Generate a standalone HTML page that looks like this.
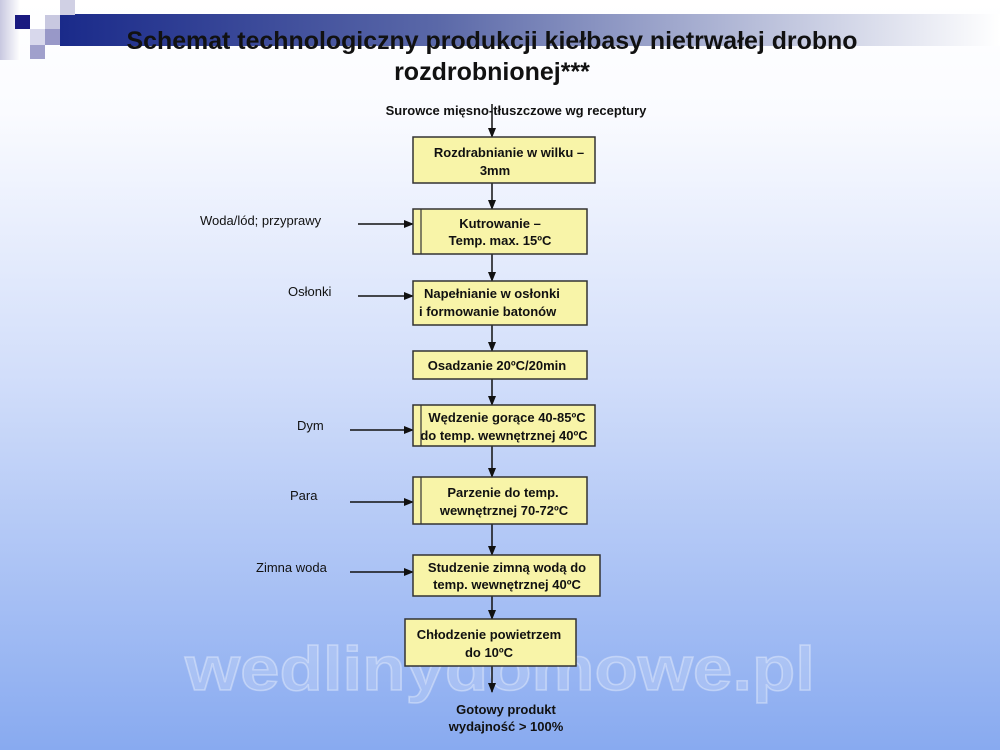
<!DOCTYPE html>
<html><head><meta charset="utf-8"><style>
body{margin:0;width:1000px;height:750px;overflow:hidden;font-family:"Liberation Sans",sans-serif}
svg text{font-family:"Liberation Sans",sans-serif}
</style></head><body>
<svg width="1000" height="750" xmlns="http://www.w3.org/2000/svg">
<defs>
<linearGradient id="bg" x1="0" y1="0" x2="0" y2="1">
<stop offset="0" stop-color="#ffffff"/><stop offset="0.15" stop-color="#fafbff"/><stop offset="0.5" stop-color="#d2defa"/><stop offset="1" stop-color="#88aaf0"/></linearGradient>
<linearGradient id="bar" x1="0" y1="0" x2="1" y2="0">
<stop offset="0" stop-color="#1a2a8a"/><stop offset="0.4" stop-color="#5a68a8"/><stop offset="1" stop-color="#ffffff"/></linearGradient>
<linearGradient id="lg" x1="0" y1="0" x2="1" y2="0"><stop offset="0" stop-color="#c8c8e0"/><stop offset="1" stop-color="#ffffff"/></linearGradient>
<marker id="a" markerWidth="10" markerHeight="10" refX="9" refY="5" orient="auto" markerUnits="userSpaceOnUse"><path d="M0,1 L10,5 L0,9 z" fill="#111"/></marker>
</defs>
<rect width="1000" height="750" fill="url(#bg)"/>
<rect x="0" y="0" width="20" height="60" fill="url(#lg)"/>
<rect x="60" y="14" width="940" height="32" fill="url(#bar)"/>
<rect x="15" y="15" width="15" height="14" fill="#1a1a80"/>
<rect x="45" y="15" width="15" height="14" fill="#c8c8e0"/>
<rect x="60" y="0" width="15" height="15" fill="#d0d0e4"/>
<rect x="30" y="29" width="15" height="16" fill="#d8d8ec"/>
<rect x="45" y="29" width="15" height="16" fill="#9898c8"/>
<rect x="30" y="45" width="15" height="14" fill="#a0a0cc"/>
<text x="500" y="690" font-size="62" font-weight="bold" text-anchor="middle" textLength="630" lengthAdjust="spacingAndGlyphs" fill="#ffffff" fill-opacity="0.18" stroke="#ffffff" stroke-opacity="0.35" stroke-width="1.5">wedlinydomowe.pl</text>
<g font-weight="bold" fill="#111" text-anchor="middle">
<text x="492" y="49" font-size="25" textLength="731" lengthAdjust="spacingAndGlyphs">Schemat technologiczny produkcji kiełbasy nietrwałej drobno</text>
<text x="492" y="80" font-size="25">rozdrobnionej***</text>
<text x="516" y="115" font-size="13">Surowce mięsno-tłuszczowe wg receptury</text>
</g>
<g stroke="#111" stroke-width="1.5" fill="none" marker-end="url(#a)">
<line x1="492" y1="104" x2="492" y2="137"/>
<line x1="492" y1="183" x2="492" y2="209"/>
<line x1="492" y1="254" x2="492" y2="281"/>
<line x1="492" y1="325" x2="492" y2="351"/>
<line x1="492" y1="379" x2="492" y2="405"/>
<line x1="492" y1="446" x2="492" y2="477"/>
<line x1="492" y1="524" x2="492" y2="555"/>
<line x1="492" y1="596" x2="492" y2="619"/>
<line x1="492" y1="666" x2="492" y2="692"/>
<line x1="358" y1="224" x2="413" y2="224"/>
<line x1="358" y1="296" x2="413" y2="296"/>
<line x1="350" y1="430" x2="413" y2="430"/>
<line x1="350" y1="502" x2="413" y2="502"/>
<line x1="350" y1="572" x2="413" y2="572"/>
</g>
<g fill="#f8f4a8" stroke="#333" stroke-width="1.5">
<rect x="413" y="137" width="182" height="46"/>
<rect x="413" y="209" width="174" height="45"/>
<rect x="413" y="281" width="174" height="44"/>
<rect x="413" y="351" width="174" height="28"/>
<rect x="413" y="405" width="182" height="41"/>
<rect x="413" y="477" width="174" height="47"/>
<rect x="413" y="555" width="187" height="41"/>
<rect x="405" y="619" width="171" height="47"/>
</g>
<g stroke="#333" stroke-width="1.2"><line x1="421" y1="209" x2="421" y2="254"/><line x1="421" y1="405" x2="421" y2="446"/><line x1="421" y1="477" x2="421" y2="524"/></g>
<g font-weight="bold" fill="#111" font-size="13" text-anchor="middle">
<text x="509" y="157">Rozdrabnianie w wilku –</text><text x="495" y="175">3mm</text>
<text x="500" y="228">Kutrowanie –</text><text x="500" y="245">Temp. max.  15ºC</text>
<text x="424" y="298" text-anchor="start">Napełnianie w osłonki</text><text x="419" y="316" text-anchor="start">i formowanie batonów</text>
<text x="497" y="370">Osadzanie 20ºC/20min</text>
<text x="507" y="422">Wędzenie gorące 40-85ºC</text><text x="504" y="440">do temp. wewnętrznej 40ºC</text>
<text x="503" y="497">Parzenie do temp.</text><text x="504" y="515">wewnętrznej 70-72ºC</text>
<text x="507" y="572">Studzenie zimną wodą do</text><text x="507" y="589">temp. wewnętrznej 40ºC</text>
<text x="489" y="639">Chłodzenie powietrzem</text><text x="489" y="657">do 10ºC</text>
<text x="506" y="714">Gotowy produkt</text><text x="506" y="731">wydajność &gt; 100%</text>
</g>
<g fill="#111" font-size="13">
<text x="200" y="225">Woda/lód; przyprawy</text>
<text x="288" y="296">Osłonki</text>
<text x="297" y="430">Dym</text>
<text x="290" y="500">Para</text>
<text x="256" y="572">Zimna woda</text>
</g>
</svg>
</body></html>
